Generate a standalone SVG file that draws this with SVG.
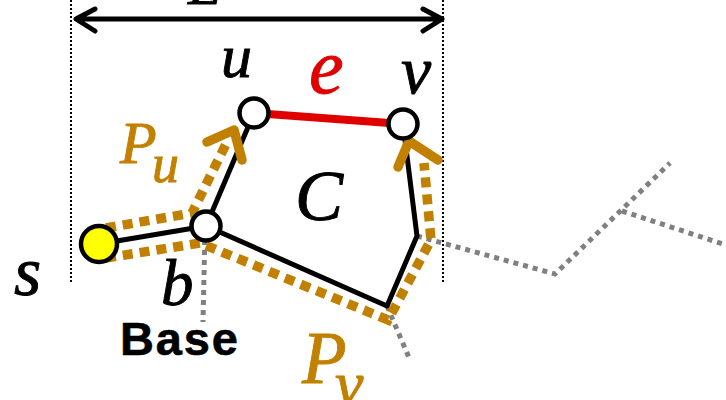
<svg xmlns="http://www.w3.org/2000/svg" width="726" height="400" viewBox="0 0 726 400">
<style>
.math{font-family:"Liberation Serif","DejaVu Serif",serif;font-style:italic;stroke-width:0.9}
.blk{fill:#000;stroke:#000}
.gld{fill:#C28000;stroke:#C28000}
.edge{stroke:#000;stroke-width:5;fill:none;stroke-linejoin:round}
.gray{stroke:#808080;stroke-width:5;stroke-dasharray:5 5;fill:none}
.gold{stroke:#C28000;stroke-width:9.5;stroke-dasharray:10 7;fill:none}
.chev{stroke:#C28000;stroke-width:9.5;fill:none;stroke-linecap:round;stroke-linejoin:round}
.dim{stroke:#000;stroke-width:2;stroke-dasharray:2 2}
.node{stroke:#000;stroke-width:4.5}
</style>
<rect width="726" height="400" fill="#fff"/>
<g id="dimension">
<line class="dim" x1="71" y1="0" x2="71" y2="283"/>
<line class="dim" x1="443" y1="0" x2="443" y2="283"/>
<path d="M78,19 L441,19 M95,9 L76,19 L95,31 M423,9 L442,19 L423,31" stroke="#000" stroke-width="5" fill="none" stroke-linecap="round" stroke-linejoin="round"/>
<text class="math blk" x="188" y="4" font-size="60">L</text>
</g>
<g id="connectors">
<path class="gray" d="M205,230 L203,322"/>
<path class="gray" d="M387,306 L410,360"/>
<path class="gray" d="M417,236 L555,274 L670,163"/>
<path class="gray" d="M622,211 L726,245"/>
<path class="edge" d="M99,244 L206,226"/>
<path class="edge" d="M206,226 L254,113"/>
<path class="edge" d="M206,226 L387,306 L417,236 L403,124"/>
<line x1="254" y1="113" x2="403" y2="124" stroke="#E00000" stroke-width="8"/>
<path class="gold" d="M106,228 L192,213 L227,142"/>
<path class="chev" d="M207,142 L234,130 L242,160"/>
<path class="gold" d="M106,258 L200,243 L388,320 L431,240 L424,163"/>
<path class="chev" d="M398,167 L409,141 L438,160"/>
</g>
<g id="node-s"><circle class="node" cx="99" cy="244" r="18" fill="#FFFF00"/></g>
<g id="node-b"><circle class="node" cx="206" cy="226" r="14.5" fill="#fff"/></g>
<g id="node-u"><circle class="node" cx="254" cy="113" r="14.5" fill="#fff"/></g>
<g id="node-v"><circle class="node" cx="403" cy="124" r="14.5" fill="#fff"/></g>
<g id="labels">
<text class="math blk" x="221" y="77" font-size="62">u</text>
<text class="math" x="309" y="93" font-size="78" fill="#E00000" stroke="#E00000">e</text>
<text class="math blk" x="401" y="93" font-size="68">v</text>
<text class="math blk" x="295" y="220" font-size="72">C</text>
<text class="math blk" x="14" y="295" font-size="70">s</text>
<text class="math blk" x="161" y="305" font-size="65">b</text>
<text x="120" y="355" font-family="Liberation Sans,Arial,sans-serif" font-weight="bold" font-size="47" textLength="118" stroke="#000" stroke-width="0.6">Base</text>
<text class="math gld"><tspan x="120" y="163" font-size="60">P</tspan><tspan x="152" y="182" font-size="54">u</tspan></text>
<text class="math gld"><tspan x="302" y="383" font-size="73">P</tspan><tspan x="335" y="405" font-size="64">v</tspan></text>
</g>
</svg>
